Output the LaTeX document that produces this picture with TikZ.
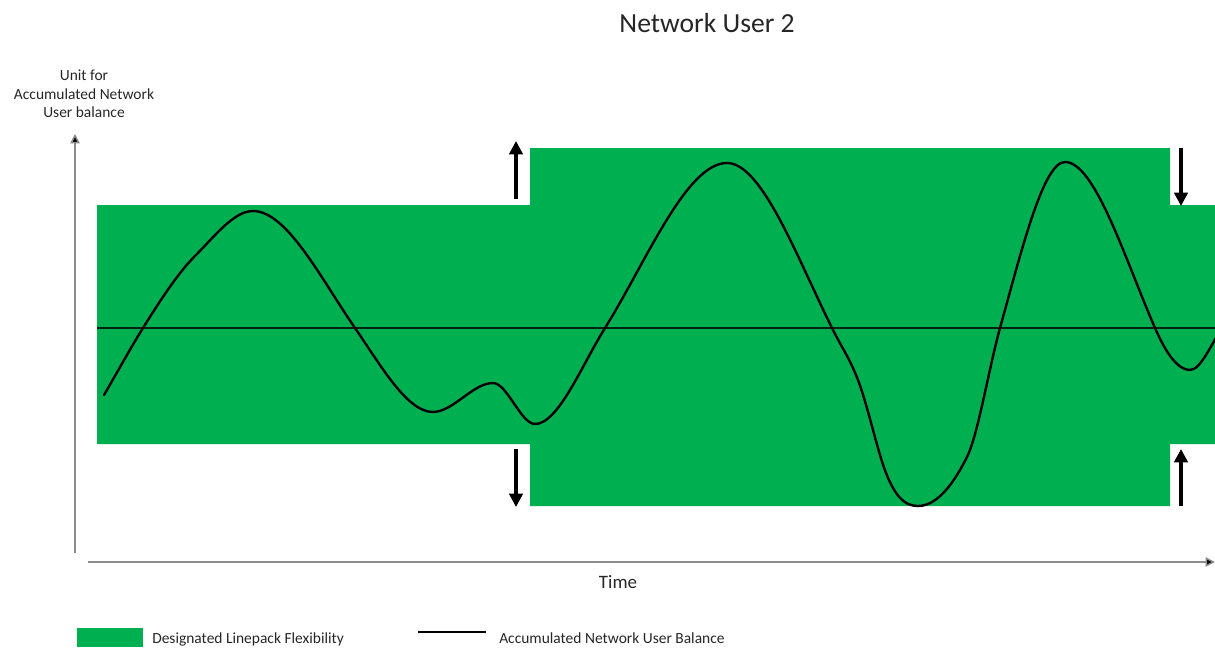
\documentclass[tikz,border=0pt]{standalone}
\usepackage{fontspec}
\setmainfont{Carlito}
\usetikzlibrary{arrows.meta}
\definecolor{flexgreen}{HTML}{00AF50}
\definecolor{axisgray}{HTML}{8C8C8C}
\definecolor{textgray}{HTML}{262626}
\tikzset{
  label text/.style={font=\fontsize{11.6pt}{13.9pt}\selectfont, text=textgray, inner sep=0pt},
  axis/.style={draw=axisgray, line width=1.1pt, -{Triangle[width=7pt,length=7pt,fill=black]}},
  bigarrow/.style={draw=black, line width=3pt, -{Triangle[width=10pt,length=10pt]}},
  balance/.style={draw=black, line width=1.8pt, line join=round, line cap=round},
  midline/.style={draw=black!80!flexgreen, line width=0.8pt},
}
\begin{document}
\begin{tikzpicture}[x=0.75pt,y=-0.75pt]
\useasboundingbox (0,0) rectangle (1215,650);

% designated linepack flexibility band
\fill[flexgreen] (97,205) -- (530,205) -- (530,148) -- (1170,148) -- (1170,205)
  -- (1215,205) -- (1215,444) -- (1170,444) -- (1170,506) -- (530,506)
  -- (530,444) -- (97,444) -- cycle;

% zero level
\coordinate (zl) at (97,328);
\coordinate (zr) at (1215,328);
\draw[midline] (zl) -- (zr);

% accumulated balance curve (Hermite segments between key points)
\begin{scope}
\clip (0,0) rectangle (1215,650);
\draw[balance] (104,395)
  .. controls (117,372.9) and (130,348.8) .. (143,328)
  .. controls (160.3,300.3) and (177.7,273.3) .. (195,256)
  .. controls (214.3,236.7) and (233.7,211) .. (253,211)
  .. controls (287,211) and (321,278.7) .. (355,328)
  .. controls (381,365.7) and (407,412) .. (433,412)
  .. controls (453,412) and (473,383) .. (493,383)
  .. controls (507,383) and (521,424) .. (535,424)
  .. controls (558.3,424) and (581.7,365.3) .. (605,328)
  .. controls (645.7,262.9) and (686.3,163) .. (727,163)
  .. controls (762.3,163) and (797.7,259.3) .. (833,330)
  .. controls (841.3,346.7) and (849.7,358.3) .. (858,380)
  .. controls (865.3,399.1) and (872.7,430.1) .. (880,455)
  .. controls (892.7,498.1) and (905.3,506) .. (918,506)
  .. controls (934.3,506) and (950.7,489.7) .. (967,457)
  .. controls (978,435) and (989,367.6) .. (1000,328)
  .. controls (1021.7,250) and (1043.3,162) .. (1065,162)
  .. controls (1095,162) and (1125,259) .. (1155,328)
  .. controls (1166.7,354.8) and (1178.3,370) .. (1190,370)
  .. controls (1200.7,370) and (1211.3,344) .. (1222,328);
\end{scope}

% axes
\coordinate (yb) at (75,553);
\coordinate (yt) at (75,134);
\coordinate (xl) at (88,562);
\coordinate (xr) at (1215,562);
\draw[axis] (yb) -- (yt);
\draw[axis] (xl) -- (xr);

% flexibility change arrows
\coordinate (a1s) at (516,199); \coordinate (a1e) at (516,141);
\coordinate (a2s) at (516,449); \coordinate (a2e) at (516,507);
\coordinate (a3s) at (1181,148); \coordinate (a3e) at (1181,206);
\coordinate (a4s) at (1181,506); \coordinate (a4e) at (1181,449);
\draw[bigarrow] (a1s) -- (a1e);
\draw[bigarrow] (a2s) -- (a2e);
\draw[bigarrow] (a3s) -- (a3e);
\draw[bigarrow] (a4s) -- (a4e);

% texts
\node[font=\fontsize{20.7pt}{24pt}\selectfont, text=textgray, inner sep=0pt] (title) at (707,23) {Network User 2};
\node[label text, align=center] (ylabel) at (84,94) {Unit for\\Accumulated Network\\User balance};
\node[font=\fontsize{14.2pt}{17pt}\selectfont, text=textgray, inner sep=0pt] (xlabel) at (618,582) {Time};

% legend
\node[fill=flexgreen, minimum width=49.5pt, minimum height=14.5pt, inner sep=0pt] (legbox) at (110,637.5) {};
\node[label text, anchor=west] (legflex) at (152,639) {Designated Linepack Flexibility};
\coordinate (ll) at (418,632);
\coordinate (lr) at (486,632);
\draw[black, line width=1.3pt] (ll) -- (lr);
\node[label text, anchor=west] (legbal) at (499,638) {Accumulated Network User Balance};
\end{tikzpicture}
\end{document}
